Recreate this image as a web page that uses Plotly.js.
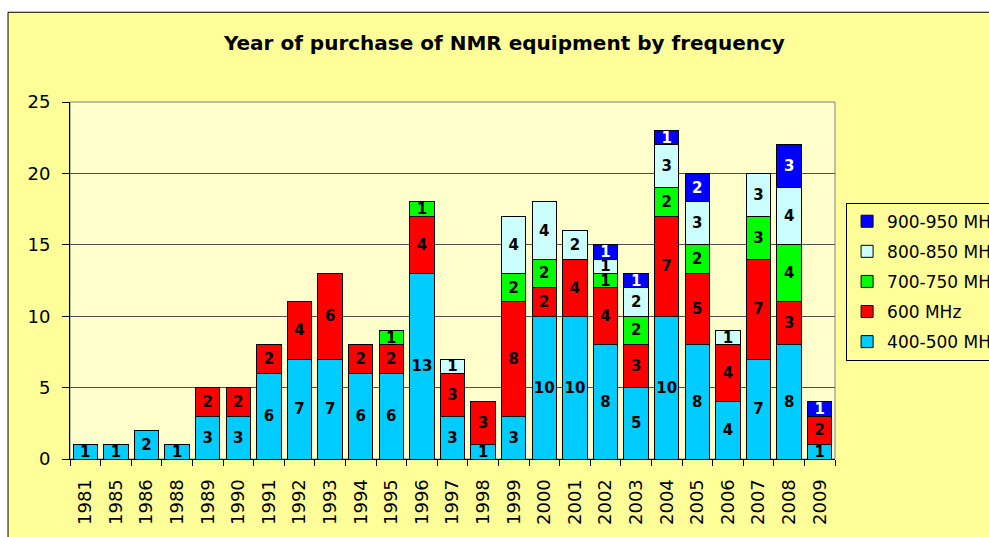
<!DOCTYPE html>
<html>
<head>
<meta charset="utf-8">
<script src="https://cdn.plot.ly/plotly-3.0.1.min.js"></script>
<style>html,body{margin:0;padding:0;background:#fff;}#chart{width:989px;height:537px;}</style>
</head>
<body>
<div id="chart"></div>
<script>
const years = ["1981","1985","1986","1988","1989","1990","1991","1992","1993","1994","1995","1996","1997","1998","1999","2000","2001","2002","2003","2004","2005","2006","2007","2008","2009"];
const mhz400_500 = [1,1,2,1,3,3,6,7,7,6,6,13,3,1,3,10,10,8,5,10,8,4,7,8,1];
const mhz600     = [0,0,0,0,2,2,2,4,6,2,2,4,3,3,8,2,4,4,3,7,5,4,7,3,2];
const mhz700_750 = [0,0,0,0,0,0,0,0,0,0,1,1,0,0,2,2,0,1,2,2,2,0,3,4,0];
const mhz800_850 = [0,0,0,0,0,0,0,0,0,0,0,0,1,0,4,4,2,1,2,3,3,1,3,4,0];
const mhz900_950 = [0,0,0,0,0,0,0,0,0,0,0,0,0,0,0,0,0,1,1,1,2,0,0,3,1];
const seriesNames = ["400-500 MHz","600 MHz","700-750 MHz","800-850 MHz","900-950 MHz"];
const seriesColors = ["#00CCFF","#FF0000","#00FF00","#CCFFFF","#0000FF"];
const labelColors = ["#000000","#000000","#000000","#000000","#FFFFFF"];
const seriesValues = [mhz400_500, mhz600, mhz700_750, mhz800_850, mhz900_950];

const traces = seriesValues.map((vals, i) => ({
  type: 'bar',
  name: seriesNames[i],
  legendgroup: 'g' + i,
  legendrank: 100 - i,
  x: years,
  y: vals.map(v => v > 0 ? v : null),
  text: vals.map(v => v > 0 ? String(v) : ''),
  textposition: 'inside',
  insidetextanchor: 'middle',
  textangle: 0,
  constraintext: 'none',
  cliponaxis: false,
  textfont: {family: 'DejaVu Sans', size: 15, color: labelColors[i], weight: 'bold'},
  marker: {color: seriesColors[i], line: {color: '#000000', width: 1}},
  hoverinfo: 'x+y+name'
}));

const layout = {
  width: 989, height: 537,
  margin: {l: 70, r: 154, t: 102, b: 78, autoexpand: false},
  paper_bgcolor: '#FFFFFF',
  plot_bgcolor: 'rgba(0,0,0,0)',
  barmode: 'stack',
  bargap: 0.2,
  showlegend: true,
  title: {
    text: '<b>Year of purchase of NMR equipment by frequency</b>',
    x: 0.51, xref: 'container', xanchor: 'center',
    y: 0.92, yref: 'container', yanchor: 'middle',
    font: {family: 'DejaVu Sans', size: 20, color: '#000000'}
  },
  xaxis: {
    type: 'category',
    tickson: 'boundaries',
    ticks: 'outside', ticklen: 6, tickcolor: '#000000',
    showline: true, linecolor: '#000000', linewidth: 1,
    tickangle: -90,
    ticklabelstandoff: 12,
    tickfont: {family: 'DejaVu Sans', size: 18, color: '#000000'},
    showgrid: false
  },
  yaxis: {
    range: [0, 25], dtick: 5,
    ticks: 'outside', ticklen: 7, tickcolor: '#000000',
    showline: true, linecolor: '#000000', linewidth: 1,
    gridcolor: '#505050', gridwidth: 1,
    zeroline: false,
    ticklabelstandoff: 8,
    tickfont: {family: 'DejaVu Sans', size: 18, color: '#000000'}
  },
  legend: {
    x: 1.0145, xanchor: 'left', y: 0.718, yanchor: 'top',
    traceorder: 'grouped',
    tracegroupgap: 5,
    bgcolor: '#FFFF99', bordercolor: '#000000', borderwidth: 1,
    font: {family: 'DejaVu Sans', size: 17, color: '#000000'}
  },
  shapes: [
    {type: 'rect', xref: 'paper', yref: 'paper', x0: -0.081, x1: 1.25, y0: -0.3, y1: 1.2514,
     fillcolor: '#FFFF99', line: {color: '#000000', width: 1}, layer: 'below'},
    {type: 'rect', xref: 'paper', yref: 'paper', x0: 0, x1: 1, y0: 0, y1: 1,
     fillcolor: '#FFFFCC', line: {color: '#808080', width: 1}, layer: 'below'}
  ]
};

Plotly.newPlot('chart', traces, layout, {displayModeBar: false, staticPlot: true});
</script>
</body>
</html>
